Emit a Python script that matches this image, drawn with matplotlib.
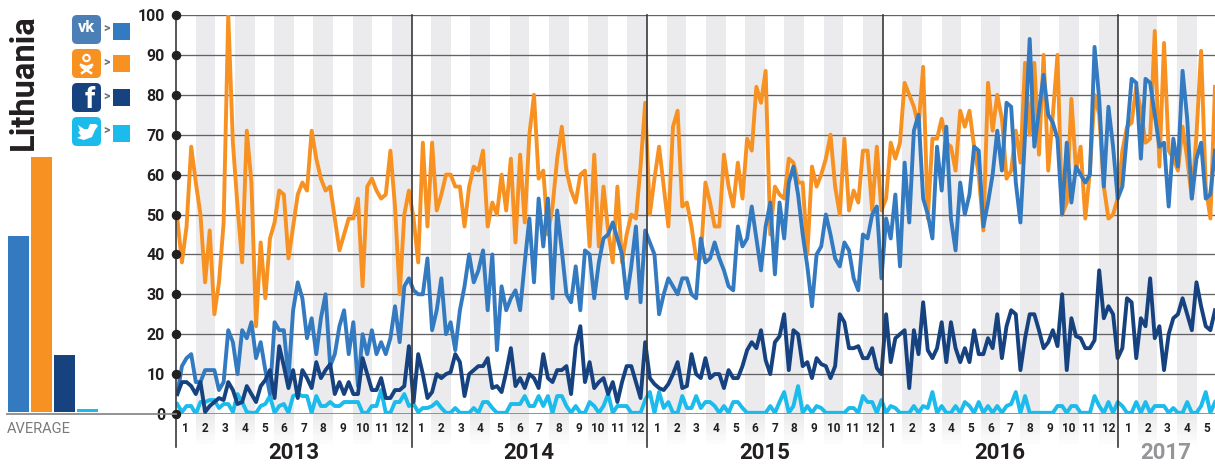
import matplotlib
matplotlib.use('Agg')
import matplotlib.pyplot as plt
import numpy as np
from matplotlib.patches import FancyBboxPatch, Rectangle, Circle, Polygon
from matplotlib.transforms import blended_transform_factory

W, H = 1215, 465

# weekly-ish values, one list per network
vk_values = [
    5, 12, 14, 15, 8, 8, 11, 11, 11, 6, 8, 21, 18, 10, 21, 19, 23, 14, 18, 11,
    5, 23, 21, 21, 9, 26, 33, 29, 19, 24, 15, 24, 30, 12, 15, 22, 26, 15, 23, 7,
    20, 15, 21, 15, 18, 15, 19, 27, 18, 32, 34, 31,
    30, 30, 39, 21, 26, 34, 20, 23, 16, 26, 32, 40, 33, 36, 41, 26, 40, 16, 32, 26,
    29, 31, 26, 38, 49, 33, 54, 42, 54, 29, 51, 41, 30, 28, 37, 26, 41, 40, 29, 38,
    44, 45, 48, 44, 40, 29, 37, 47, 28, 46, 43, 40, 25, 30, 34, 32, 30, 34, 34, 30,
    29, 44, 38, 39, 43, 39, 36, 32, 31, 47, 42, 44, 52, 44, 36, 47, 53, 35, 53, 44,
    58, 62, 55, 45, 37, 27,
    40, 42, 50, 45, 39, 37, 43, 41, 34, 31, 45, 44, 50, 52, 34, 49, 44, 55, 37, 63,
    48, 71, 75, 54, 50, 44, 67, 56, 72, 49, 41, 58, 50, 55, 67, 66, 47, 53, 60, 71,
    61, 78, 77, 58, 48, 70, 94, 67, 76, 85, 75, 73, 69, 50, 68, 53, 62, 60, 58, 60,
    92, 79, 57, 77, 67, 54, 57, 70, 84, 83, 64, 84, 83, 75, 67, 68, 52, 69, 62, 86,
    74, 54, 64, 68, 54, 55, 66,
]
ok_values = [
    49, 38, 47, 67, 58, 50, 33, 46, 25, 33, 48, 100, 68, 52, 38, 71, 58, 22, 43, 29,
    44, 48, 56, 55, 39, 47, 55, 58, 56, 71, 64, 59, 56, 57, 49, 41, 45, 49, 49, 54,
    32, 57, 59, 56, 54, 55, 66, 52, 30, 50, 56, 49,
    38, 68, 47, 68, 51, 55, 60, 60, 57, 57, 47, 57, 62, 61, 66, 47, 53, 50, 60, 51,
    64, 43, 65, 48, 70, 80, 59, 61, 45, 52, 64, 72, 61, 56, 53, 60, 61, 42, 65, 42,
    57, 46, 38, 57, 38, 45, 50, 49, 62, 78, 50, 59, 67, 57, 47, 72, 76, 52, 53, 47,
    39, 39, 58, 53, 47, 47, 65, 57, 52, 63, 54, 69, 66, 82, 78, 86, 45, 57, 55, 54,
    64, 63, 58, 58, 40, 62,
    57, 60, 64, 70, 57, 50, 69, 51, 56, 53, 66, 66, 51, 67, 51, 54, 68, 64, 68, 83,
    80, 77, 72, 87, 49, 69, 69, 74, 68, 67, 61, 76, 72, 76, 67, 60, 46, 83, 71, 80,
    74, 59, 61, 71, 63, 88, 70, 88, 65, 90, 61, 75, 90, 50, 53, 79, 61, 67, 49, 61,
    80, 75, 57, 49, 50, 54, 66, 72, 73, 82, 76, 68, 69, 96, 62, 93, 66, 64, 61, 72,
    64, 54, 70, 91, 57, 49, 82,
]
fb_values = [
    5, 8, 8, 7, 5, 8, 0.5, 2, 3, 4, 3.5, 8, 6, 2.5, 3, 7, 5, 3, 7, 8.5,
    11, 4, 17, 12, 6.5, 11, 4, 11, 9, 6.5, 13, 9, 11, 12.5, 5, 8, 5, 8, 5, 5,
    14, 10, 6, 6, 9, 4, 4, 6, 6, 7, 17, 3,
    15, 10, 4, 5.5, 10, 9, 10, 10.5, 15, 13, 4.5, 10, 11, 12, 12, 14, 6.5, 7, 5.5, 10.5,
    16.5, 7, 9, 6.5, 10, 9, 6.5, 15, 9, 8, 11, 11, 12, 5, 17, 22, 8, 13, 6.5, 8,
    9, 5, 8, 3, 8, 12, 12, 8, 4, 18, 9, 7.5, 6.5, 6, 7.5, 10, 13, 6.5, 7, 15,
    10, 9, 14, 9, 10, 10, 6.5, 11, 9, 9, 12, 16, 18, 16.5, 21, 13.5, 10, 18, 19.5, 25,
    11, 21, 20, 12, 13, 9,
    14, 12.5, 12, 9, 12, 25, 23, 16.5, 16.5, 17, 14, 14, 16.5, 11.5, 10, 25, 13, 19, 20, 21,
    6.5, 21, 15, 28, 16, 14, 16.5, 23, 13, 23, 16.5, 13, 16.5, 13, 21, 15, 15, 19, 16.5, 25,
    14, 22, 26, 25, 11, 19, 25, 25, 21, 16.5, 18, 21, 17, 30, 11, 24, 19.5, 19, 16.5, 16.5,
    18.5, 36, 24, 27, 25, 14, 16.5, 29, 28, 14, 24, 22, 34, 19, 22, 11, 20, 24, 25, 29,
    25, 21, 33, 27, 22, 21, 26,
]
tw_values = [
    2.5, 0.5, 2, 2, 0, 3, 3, 3.5, 3.5, 1.5, 2.5, 2.5, 0.5, 5, 3, 0.5, 0.3, 0.3, 2, 2.5,
    4.5, 0.3, 2, 2.5, 0.3, 4.5, 5, 4.5, 4.5, 0.3, 4.5, 2, 2, 3, 2, 2, 3, 3, 3, 3,
    0.3, 0.3, 2, 2, 6, 0.3, 0.3, 3, 3, 5, 2, 2.5,
    0.5, 1.5, 1.5, 2, 3, 1.5, 0.3, 0.3, 1.5, 0.3, 0.3, 0.3, 1.5, 0.3, 3, 3, 1.5, 0.3, 0.3, 0.3,
    2.5, 2.5, 2.5, 4.5, 2, 2, 4.5, 2, 4.5, 0.3, 4.5, 4.5, 2, 0.3, 2, 0.3, 0.3, 3, 2, 0.3,
    2, 5, 0.3, 2, 2, 2, 0.3, 0.3, 0.3, 3.5, 5.5, 0.3, 5.5, 1.5, 3, 0.3, 0.3, 4.5, 1.5, 1.5,
    4.5, 1.5, 3, 3, 2, 0.3, 2, 0.3, 3, 3, 1.5, 0.3, 0.3, 0.3, 0.3, 0.3, 2, 0.3, 3, 5.5,
    0.3, 2, 7, 0.3, 2, 0.3,
    2, 1.5, 0.3, 0.3, 0.3, 0.3, 0.3, 1.5, 1.5, 0.3, 4.5, 3, 3, 0.3, 3.5, 0.3, 2, 1.5, 0.3, 0.3,
    0.3, 2, 0.3, 2, 1.5, 5.5, 0.3, 2, 0.3, 0.3, 2, 0.3, 3, 2, 0.3, 3, 0.3, 2, 0.3, 2,
    0.3, 2, 2.5, 5.5, 0.3, 4.5, 0.3, 0.3, 0.3, 0.3, 0.3, 0.3, 2, 2, 0.3, 2, 2, 0.3, 0.3, 0.3,
    4.5, 2, 0.3, 3, 0.3, 3, 2, 0.3, 0.3, 3, 0.3, 3, 0.3, 2, 2, 2, 0.3, 1.5, 0.3, 0.3,
    3, 0.3, 0.3, 2, 5.5, 0.3, 3,
]
avg_values = [44, 64, 14.3, 0.8]
y_ticks = [0, 10, 20, 30, 40, 50, 60, 70, 80, 90, 100]
years = ['2013', '2014', '2015', '2016', '2017']
month_labels = [1, 2, 3, 4, 5, 6, 7, 8, 9, 10, 11, 12]
months_2017 = 5

VK = '#337AC0'
OK = '#F79121'
FB = '#164380'
TW = '#1BBBEC'
DARK = '#231F20'
STRIPE = '#EBEBED'

plt.rcParams['font.family'] = ['Roboto', 'DejaVu Sans']

fig = plt.figure(figsize=(W / 100, H / 100), dpi=100)


def px_rect(left, top, right, bottom):
    return [left / W, 1 - bottom / H, (right - left) / W, (bottom - top) / H]


ax = fig.add_axes(px_rect(176, 15, 1215, 414))
x = np.arange(len(vk_values))
px_per_point = 4.633
month_w = 19.63 / px_per_point
x_start = -1.3 / px_per_point
ax.set_xlim(x_start, 224)
ax.set_ylim(0, 100)
for side in ax.spines.values():
    side.set_visible(False)

# month stripes, they fade out below the axis
n_months = 4 * 12 + months_2017
for m in range(1, n_months, 2):
    left = x_start + m * month_w
    ax.add_patch(Rectangle((left, 0), month_w, 100, color=STRIPE, lw=0, zorder=0))
    for k in range(8):
        ax.add_patch(Rectangle((left, -k * 0.93), month_w, -0.93, facecolor=STRIPE, lw=0,
                               alpha=1 - k / 8, clip_on=False, zorder=0))

for v in y_ticks:
    if v == 0:
        ax.plot(ax.get_xlim(), [0, 0], color='#8A8A8C', lw=1.3, zorder=1)
    else:
        ax.plot(ax.get_xlim(), [v, v], color='#636365', lw=0.95, zorder=1)

for y_i in range(5):
    xpos = x_start + y_i * 12 * month_w
    ax.plot([xpos, xpos], [-8.3, 100], color='#3A3A3C', lw=1.2, clip_on=False, zorder=5)

ax.plot(x, tw_values, color=TW, lw=2.8, zorder=2, clip_on=True)
ax.plot(x, ok_values, color=OK, lw=2.8, zorder=3)
ax.plot(x, vk_values, color=VK, lw=2.8, zorder=4)
ax.plot(x, fb_values, color=FB, lw=2.8, zorder=4)

ax.scatter([x_start] * len(y_ticks), y_ticks, s=34, color=DARK, clip_on=False, zorder=6)
ax.set_yticks(y_ticks)
ax.set_yticklabels(y_ticks, fontsize=11.5, fontweight='bold', color=DARK)
ax.tick_params(axis='y', length=0, pad=8)

month_x = [x_start + (m + 0.5) * month_w for m in range(n_months)]
month_txt = [month_labels[m % 12] for m in range(n_months)]
ax.set_xticks(month_x)
ax.set_xticklabels(month_txt, fontsize=8.5, fontweight='bold', color=DARK)
ax.tick_params(axis='x', length=0, pad=6)

trans = blended_transform_factory(ax.transData, fig.transFigure)
year_x = [294, 529, 765, 1000, 1166]
for label, xp in zip(years, year_x):
    col = '#939598' if label == '2017' else DARK
    ax.text((xp - 176) / px_per_point + x_start, 1 - 452.5 / H, label, transform=trans,
            ha='center', va='center', fontsize=16, fontweight='bold', color=col)

# average bars on the left, same scale as the main chart
ax_avg = fig.add_axes(px_rect(7, 13, 99, 412))
ax_avg.bar([0, 1, 2, 3], avg_values, width=0.95, color=[VK, OK, FB, TW])
ax_avg.set_xlim(-0.5, 3.5)
ax_avg.set_ylim(0, 100)
ax_avg.axis('off')
ax_avg.patch.set_alpha(0)
fig.add_artist(plt.Line2D([7 / W, 176 / W], [1 - 414 / H, 1 - 414 / H], color='#8A8A8C', lw=1.3))
fig.text(7 / W, 1 - 429 / H, 'AVERAGE', fontsize=10.5, color='#7A7A7C', va='center', ha='left')
fig.text(24 / W, 1 - 82 / H, 'Lithuania', rotation=90, fontsize=23.5, fontweight='bold', color=DARK,
         ha='center', va='center')

# icons: full figure overlay in pixel units
ov = fig.add_axes([0, 0, 1, 1])
ov.set_xlim(0, W)
ov.set_ylim(H, 0)
ov.axis('off')
ov.patch.set_alpha(0)
icon_tops = [15, 49, 83, 117]
icon_cols = ['#4C7FB5', OK, FB, TW]
square_tops = [23, 55, 89, 125]
square_cols = [VK, OK, FB, TW]
for top, col, st, sc in zip(icon_tops, icon_cols, square_tops, square_cols):
    ov.add_patch(FancyBboxPatch((75, top + 3), 23, 23, boxstyle='round,pad=3,rounding_size=5', fc=col, ec='none'))
    ov.text(107, top + 13, '>', fontsize=9, fontweight='bold', color='#6D6E71', ha='center', va='center')
    ov.add_patch(Rectangle((113, st), 17, 17, fc=sc, ec='none'))

ov.text(86.5, 28, 'vk', fontsize=12, fontweight='bold', color='white', ha='center', va='center')
ov.add_patch(Circle((86.5, 58), 3.2, fc='none', ec='white', lw=1.5))
ov.plot([81, 86.5, 92], [65, 67, 65], color='white', lw=1.8)
ov.plot([82, 91], [73, 67], color='white', lw=1.8)
ov.plot([82, 91], [67, 73], color='white', lw=1.8)
ov.text(90, 100, 'f', fontsize=21, fontweight='bold', color='white', ha='center', va='center')
ov.add_patch(Polygon([(78, 125), (84, 129), (88, 129), (90, 124), (96, 124), (98, 126), (95, 130),
                      (92, 137), (84, 140), (77, 138), (81, 136), (78, 132), (80, 131)],
                     fc='white', ec='none'))

fig.savefig('out.png', dpi=100)
